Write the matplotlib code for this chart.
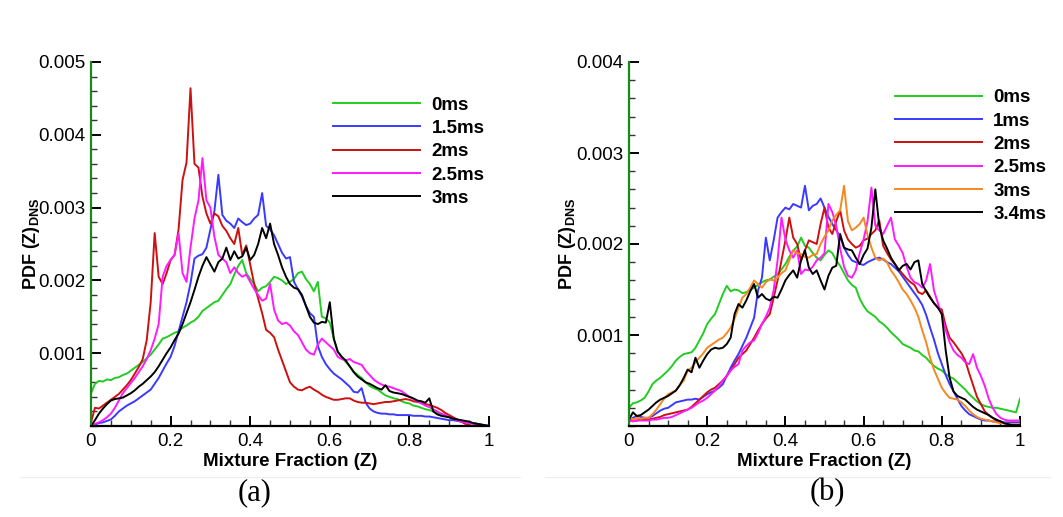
import numpy as np
import matplotlib
matplotlib.use("Agg")
import matplotlib.pyplot as plt
from matplotlib.ticker import MultipleLocator, FixedLocator
from matplotlib.lines import Line2D

plt.rcParams['font.family'] = ['Liberation Sans', 'DejaVu Sans']
plt.rcParams['mathtext.fontset'] = 'custom'
plt.rcParams['mathtext.rm'] = 'Liberation Sans'
plt.rcParams['mathtext.bf'] = 'Liberation Sans:bold'

# Mixture fraction bins (Z), shared by all curves
Z = np.round(np.arange(101) * 0.01, 2)
SCALE = 1e-3  # PDF values below are given in units of 1e-3

# ---------------- panel (a) ----------------
labels_a = ['0ms', '1.5ms', '2ms', '2.5ms', '3ms']
colors_a = ['#22cc22', '#3a3aff', '#cc1111', '#ff1aff', '#000000']

a_0ms = [0.45, 0.58, 0.62, 0.61, 0.64, 0.63, 0.66, 0.67, 0.70, 0.72,
         0.76, 0.80, 0.84, 0.88, 0.93, 0.98, 1.05, 1.12, 1.20, 1.22,
         1.25, 1.28, 1.30, 1.35, 1.38, 1.42, 1.45, 1.50, 1.58, 1.62,
         1.66, 1.70, 1.72, 1.80, 1.88, 1.95, 2.08, 2.20, 2.28, 2.10,
         2.02, 1.95, 1.85, 1.90, 1.92, 1.98, 2.05, 2.03, 2.00, 1.95,
         1.98, 2.02, 2.10, 2.12, 2.02, 1.95, 1.85, 1.98, 1.50, 1.48,
         1.42, 1.20, 1.02, 0.95, 0.88, 0.82, 0.75, 0.70, 0.66, 0.60,
         0.55, 0.52, 0.50, 0.46, 0.42, 0.40, 0.38, 0.37, 0.34, 0.32,
         0.31, 0.28, 0.27, 0.25, 0.23, 0.22, 0.20, 0.18, 0.16, 0.14,
         0.12, 0.10, 0.09, 0.07, 0.06, 0.05, 0.04, 0.03, 0.02, 0.01,
         0.00]
a_1p5ms = [0.00, 0.02, 0.04, 0.05, 0.07, 0.09, 0.14, 0.20, 0.24, 0.28,
           0.31, 0.34, 0.38, 0.42, 0.46, 0.50, 0.58, 0.66, 0.76, 0.86,
           0.95, 1.10, 1.30, 1.50, 1.70, 1.96, 2.30, 2.34, 2.36, 2.45,
           2.70, 2.95, 3.45, 2.90, 2.82, 2.78, 2.72, 2.85, 2.80, 2.76,
           2.78, 2.85, 2.90, 3.20, 2.75, 2.70, 2.62, 2.50, 2.38, 2.30,
           2.32, 1.98, 1.88, 1.78, 1.65, 1.55, 1.50, 1.10, 0.95, 0.85,
           0.78, 0.72, 0.68, 0.64, 0.59, 0.54, 0.47, 0.46, 0.52, 0.32,
           0.24, 0.20, 0.18, 0.17, 0.17, 0.16, 0.16, 0.15, 0.15, 0.15,
           0.15, 0.14, 0.14, 0.14, 0.13, 0.13, 0.12, 0.11, 0.10, 0.09,
           0.08, 0.08, 0.07, 0.06, 0.06, 0.05, 0.04, 0.03, 0.02, 0.01,
           0.00]
a_2ms = [0.05, 0.25, 0.24, 0.28, 0.32, 0.36, 0.40, 0.44, 0.50, 0.56,
         0.63, 0.72, 0.81, 0.92, 1.18, 1.70, 2.65, 2.05, 1.95, 2.10,
         2.28, 2.35, 2.70, 3.38, 3.62, 4.64, 3.60, 3.55, 3.15, 2.92,
         2.78, 2.92, 2.88, 2.75, 2.68, 2.58, 2.50, 2.72, 2.35, 2.48,
         2.22, 1.95, 1.75, 1.55, 1.32, 1.28, 1.22, 1.05, 0.90, 0.75,
         0.60, 0.54, 0.50, 0.49, 0.52, 0.54, 0.50, 0.47, 0.43, 0.40,
         0.38, 0.36, 0.36, 0.37, 0.38, 0.38, 0.35, 0.33, 0.32, 0.32,
         0.31, 0.30, 0.31, 0.32, 0.33, 0.33, 0.34, 0.35, 0.36, 0.37,
         0.36, 0.34, 0.33, 0.32, 0.30, 0.29, 0.27, 0.25, 0.22, 0.18,
         0.15, 0.12, 0.09, 0.06, 0.03, 0.01, 0.00, 0.00, 0.00, 0.00,
         0.00]
a_2p5ms = [0.00, 0.03, 0.05, 0.08, 0.12, 0.17, 0.25, 0.35, 0.45, 0.52,
           0.59, 0.66, 0.74, 0.82, 0.92, 1.04, 1.20, 1.40, 2.05, 2.20,
           2.28, 2.35, 2.65, 2.10, 1.98, 2.45, 2.85, 3.10, 3.68, 3.10,
           3.00, 2.60, 2.35, 2.30, 2.25, 2.10, 2.18, 2.10, 2.05, 2.08,
           1.98, 1.88, 1.80, 1.72, 1.75, 1.95, 1.60, 1.45, 1.40, 1.42,
           1.38, 1.30, 1.25, 1.15, 1.05, 1.00, 0.98, 1.12, 1.20, 1.15,
           1.10, 1.05, 0.95, 0.92, 0.90, 0.92, 0.88, 0.86, 0.84, 0.76,
           0.70, 0.64, 0.60, 0.57, 0.55, 0.54, 0.52, 0.50, 0.48, 0.44,
           0.40, 0.37, 0.34, 0.31, 0.28, 0.26, 0.23, 0.20, 0.17, 0.15,
           0.12, 0.10, 0.08, 0.06, 0.05, 0.04, 0.03, 0.02, 0.01, 0.01,
           0.00]
a_3ms = [0.00, 0.08, 0.17, 0.24, 0.30, 0.35, 0.37, 0.38, 0.39, 0.42,
         0.45, 0.49, 0.54, 0.58, 0.63, 0.68, 0.74, 0.82, 0.91, 1.00,
         1.08, 1.18, 1.27, 1.40, 1.55, 1.70, 1.87, 2.05, 2.20, 2.32,
         2.22, 2.12, 2.25, 2.30, 2.45, 2.28, 2.40, 2.30, 2.33, 2.45,
         2.28, 2.35, 2.50, 2.72, 2.58, 2.78, 2.50, 2.35, 2.18, 2.05,
         1.95, 1.90, 1.88, 1.80, 1.65, 1.50, 1.42, 1.40, 1.43, 1.42,
         1.70, 1.20, 1.02, 0.95, 0.90, 0.82, 0.74, 0.68, 0.64, 0.60,
         0.58, 0.55, 0.52, 0.50, 0.56, 0.48, 0.46, 0.45, 0.44, 0.42,
         0.40, 0.38, 0.35, 0.34, 0.32, 0.38, 0.20, 0.16, 0.14, 0.13,
         0.12, 0.10, 0.09, 0.08, 0.07, 0.06, 0.04, 0.03, 0.02, 0.01,
         0.00]
series_a = [a_0ms, a_1p5ms, a_2ms, a_2p5ms, a_3ms]

# ---------------- panel (b) ----------------
labels_b = ['0ms', '1ms', '2ms', '2.5ms', '3ms', '3.4ms']
colors_b = ['#22cc22', '#3a3aff', '#cc1111', '#ff1aff', '#f5891f', '#000000']

b_0ms = [0.20, 0.25, 0.26, 0.28, 0.31, 0.38, 0.46, 0.50, 0.53, 0.57,
         0.61, 0.66, 0.72, 0.76, 0.79, 0.80, 0.81, 0.86, 0.94, 1.02,
         1.12, 1.18, 1.23, 1.34, 1.45, 1.54, 1.48, 1.50, 1.49, 1.46,
         1.47, 1.50, 1.52, 1.55, 1.58, 1.60, 1.61, 1.64, 1.67, 1.72,
         1.78, 1.86, 1.93, 1.97, 2.07, 1.98, 1.96, 1.90, 1.85, 1.82,
         1.88, 1.93, 1.90, 1.82, 1.76, 1.68, 1.60, 1.55, 1.52, 1.40,
         1.32, 1.26, 1.23, 1.20, 1.15, 1.12, 1.08, 1.03, 0.99, 0.95,
         0.90, 0.88, 0.86, 0.83, 0.82, 0.78, 0.75, 0.70, 0.66, 0.63,
         0.61, 0.57, 0.54, 0.52, 0.48, 0.44, 0.40, 0.35, 0.31, 0.27,
         0.24, 0.22, 0.21, 0.20, 0.20, 0.19, 0.18, 0.17, 0.16, 0.15,
         0.30]
b_1ms = [0.05, 0.09, 0.11, 0.10, 0.09, 0.09, 0.11, 0.14, 0.17, 0.19,
         0.20, 0.23, 0.26, 0.27, 0.28, 0.29, 0.29, 0.30, 0.29, 0.32,
         0.35, 0.37, 0.39, 0.42, 0.46, 0.55, 0.64, 0.72, 0.79, 0.88,
         0.97, 1.08, 1.19, 1.49, 1.63, 2.07, 1.82, 2.04, 2.29, 2.35,
         2.40, 2.38, 2.44, 2.42, 2.40, 2.64, 2.37, 2.42, 2.44, 2.50,
         2.40, 2.30, 2.22, 2.15, 2.08, 1.96, 1.88, 1.82, 1.80, 1.78,
         1.77, 1.80, 1.82, 1.84, 1.85, 1.83, 1.80, 1.78, 1.74, 1.70,
         1.64, 1.58, 1.52, 1.46, 1.40, 1.33, 1.22, 1.08, 0.95, 0.80,
         0.68, 0.56, 0.46, 0.38, 0.30, 0.22, 0.17, 0.13, 0.11, 0.09,
         0.07, 0.06, 0.06, 0.05, 0.05, 0.05, 0.04, 0.04, 0.04, 0.04,
         0.04]
b_2ms = [0.06, 0.06, 0.06, 0.07, 0.07, 0.07, 0.08, 0.09, 0.10, 0.12,
         0.13, 0.14, 0.15, 0.16, 0.17, 0.18, 0.21, 0.25, 0.29, 0.33,
         0.37, 0.40, 0.42, 0.46, 0.50, 0.55, 0.61, 0.68, 0.75, 0.79,
         0.83, 0.90, 0.97, 1.05, 1.12, 1.18, 1.23, 1.41, 1.60, 1.82,
         2.04, 2.29, 2.07, 2.00, 1.82, 1.93, 2.04, 2.02, 2.00, 2.22,
         2.40, 2.18, 2.11, 2.25, 2.37, 2.15, 2.05, 2.00, 1.96, 1.98,
         2.04, 2.06, 2.11, 2.15, 2.26, 1.98, 1.90, 1.83, 1.78, 1.72,
         1.67, 1.62, 1.58, 1.55, 1.47, 1.45, 1.49, 1.42, 1.35, 1.30,
         1.28, 1.10, 0.97, 0.92, 0.86, 0.80, 0.72, 0.58, 0.45, 0.32,
         0.24, 0.16, 0.12, 0.09, 0.06, 0.04, 0.03, 0.02, 0.01, 0.01,
         0.00]
b_2p5ms = [0.06, 0.05, 0.06, 0.06, 0.06, 0.06, 0.07, 0.07, 0.08, 0.09,
           0.09, 0.10, 0.12, 0.14, 0.16, 0.18, 0.20, 0.23, 0.26, 0.28,
           0.31, 0.35, 0.39, 0.44, 0.50, 0.55, 0.61, 0.65, 0.68, 0.83,
           0.88, 0.92, 0.94, 1.02, 1.12, 1.20, 1.30, 1.49, 1.82, 2.29,
           2.05, 1.93, 1.85, 1.93, 1.67, 1.72, 1.71, 1.75, 1.82, 1.85,
           1.90, 2.44, 2.35, 2.20, 1.95, 1.75, 1.65, 1.63, 1.71, 1.90,
           2.05, 2.25, 2.62, 2.20, 2.15, 2.11, 2.20, 2.29, 2.05, 1.98,
           1.90, 1.75, 1.63, 1.58, 1.56, 1.52, 1.60, 1.78, 1.49, 1.35,
           1.22, 1.05, 0.92, 0.83, 0.78, 0.75, 0.70, 0.68, 0.79, 0.64,
           0.55, 0.44, 0.30, 0.20, 0.13, 0.09, 0.07, 0.06, 0.06, 0.06,
           0.06]
b_3ms = [0.10, 0.07, 0.09, 0.08, 0.09, 0.09, 0.13, 0.18, 0.24, 0.30,
         0.35, 0.37, 0.39, 0.45, 0.50, 0.61, 0.64, 0.70, 0.75, 0.80,
         0.86, 0.89, 0.92, 0.95, 0.97, 1.02, 1.08, 1.18, 1.30, 1.41,
         1.45, 1.52, 1.60, 1.56, 1.52, 1.58, 1.61, 1.60, 1.63, 1.68,
         1.71, 1.82, 1.93, 1.90, 1.89, 1.86, 1.85, 1.88, 1.89, 2.00,
         2.08, 2.15, 2.26, 2.32, 2.37, 2.64, 2.25, 2.15, 2.18, 2.22,
         2.29, 2.10, 1.96, 1.85, 1.82, 1.84, 1.80, 1.71, 1.65, 1.58,
         1.50, 1.45, 1.38, 1.30, 1.20, 1.05, 0.92, 0.75, 0.62, 0.52,
         0.42, 0.36, 0.31, 0.30, 0.29, 0.26, 0.22, 0.17, 0.13, 0.10,
         0.08, 0.07, 0.06, 0.05, 0.04, 0.03, 0.03, 0.02, 0.02, 0.02,
         0.02]
b_3p4ms = [0.07, 0.15, 0.11, 0.12, 0.15, 0.18, 0.22, 0.26, 0.29, 0.31,
           0.33, 0.36, 0.39, 0.45, 0.53, 0.62, 0.59, 0.75, 0.64, 0.72,
           0.79, 0.84, 0.86, 0.85, 0.86, 0.90, 0.97, 1.23, 1.34, 1.30,
           1.38, 1.48, 1.56, 1.41, 1.45, 1.40, 1.38, 1.42, 1.41, 1.50,
           1.60, 1.66, 1.71, 1.63, 1.82, 1.93, 1.74, 1.67, 1.71, 1.60,
           1.50, 1.65, 1.74, 1.76, 2.11, 1.96, 1.94, 1.93, 1.85, 1.78,
           1.88, 1.95, 2.18, 2.60, 2.20, 2.04, 1.95, 1.85, 1.78, 1.71,
           1.76, 1.78, 1.72, 1.80, 1.82, 1.56, 1.48, 1.41, 1.35, 1.30,
           1.23, 0.83, 0.53, 0.38, 0.33, 0.31, 0.29, 0.25, 0.21, 0.18,
           0.16, 0.14, 0.12, 0.09, 0.07, 0.05, 0.03, 0.02, 0.01, 0.01,
           0.01]
series_b = [b_0ms, b_1ms, b_2ms, b_2p5ms, b_3ms, b_3p4ms]

W, H = 1063, 517
fig = plt.figure(figsize=(W / 100, H / 100), dpi=100)

def px_axes(x0, x1, y0, y1):
    return fig.add_axes([x0 / W, 1 - y1 / H, (x1 - x0) / W, (y1 - y0) / H])

ax_a = px_axes(91, 489, 62, 426)
ax_b = px_axes(629, 1020, 62, 426)

def style(ax, ymax, yticks, ylab_x):
    ax.set_xlim(0, 1)
    ax.set_ylim(0, ymax)
    for s in ('top', 'right'):
        ax.spines[s].set_visible(False)
    ax.spines['left'].set_color('#188a18')
    ax.spines['left'].set_linewidth(1.6)
    ax.spines['bottom'].set_linewidth(1.6)
    ax.xaxis.set_major_locator(FixedLocator([0, 0.2, 0.4, 0.6, 0.8, 1.0]))
    ax.xaxis.set_minor_locator(MultipleLocator(0.05))
    ax.set_xticklabels(['0', '0.2', '0.4', '0.6', '0.8', '1'])
    ax.yaxis.set_major_locator(FixedLocator(yticks))
    ax.yaxis.set_minor_locator(MultipleLocator(0.0002))
    ax.set_yticklabels([f'{t:.3f}' for t in yticks])
    ax.tick_params(which='major', direction='in', length=7.5, width=1.4,
                   labelsize=13.5, pad=5, color='black')
    ax.tick_params(which='minor', direction='in', length=4, width=1.0,
                   color='#333333')
    ax.tick_params(axis='y', which='major', pad=4)
    ax.set_xlabel('Mixture Fraction (Z)', fontsize=13.5, fontweight='bold')
    ax.xaxis.set_label_coords(0.5, -0.075)
    ax.set_ylabel(r'PDF (Z)$_{\mathbf{DNS}}$', fontsize=13, fontweight='bold')
    ax.yaxis.set_label_coords(ylab_x, 0.5)

for ys, lab, col in zip(series_a, labels_a, colors_a):
    ax_a.plot(Z, np.array(ys) * SCALE, color=col, lw=1.4, label=lab)
for ys, lab, col in zip(series_b, labels_b, colors_b):
    ax_b.plot(Z, np.array(ys) * SCALE, color=col, lw=1.4, label=lab)

style(ax_a, 0.005, [0.001, 0.002, 0.003, 0.004, 0.005], -0.123)
style(ax_b, 0.004, [0.001, 0.002, 0.003, 0.004], -0.130)

leg_kw = dict(frameon=False, handlelength=4.65, handletextpad=0.6,
              labelspacing=0.33, borderpad=0, borderaxespad=0,
              prop={'weight': 'bold', 'size': 13.5}, loc='upper left')
ax_a.legend(bbox_to_anchor=(0.608, 0.905), **leg_kw)
ax_b.legend(bbox_to_anchor=(0.680, 0.925), **leg_kw)

fig.text(255 / W, 1 - 493 / H, '(a)', family='Liberation Serif', fontsize=22,
         ha='center', va='center')
fig.text(827 / W, 1 - 493 / H, '(b)', family='Liberation Serif', fontsize=22,
         ha='center', va='center')

fig.add_artist(Line2D([20 / W, 520 / W], [1 - 477 / H] * 2, color='#eeeeee', lw=0.8))
fig.add_artist(Line2D([545 / W, 1050 / W], [1 - 477 / H] * 2, color='#eeeeee', lw=0.8))

fig.savefig('out.png', dpi=100)
